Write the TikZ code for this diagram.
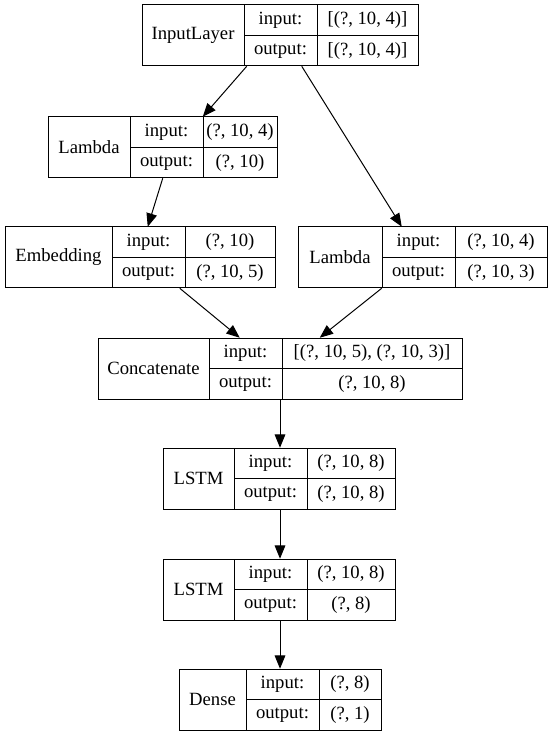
\documentclass[tikz,border=0pt]{standalone}
\usepackage{fontspec}
\setmainfont{Liberation Serif}
\usetikzlibrary{arrows.meta,positioning,calc,fit}

% one keras layer record: id, left, split1, split2, right, top, name, input, output
\newcommand{\kerasbox}[9]{%
  \node[cell, fit={(#2,#6) (#3,#6+61)}] (#1-n) {};
  \node[cell, fit={(#3,#6) (#4,#6+30.5)}] (#1-li) {};
  \node[cell, fit={(#3,#6+30.5) (#4,#6+61)}] (#1-lo) {};
  \node[cell, fit={(#4,#6) (#5,#6+30.5)}] (#1-vi) {};
  \node[cell, fit={(#4,#6+30.5) (#5,#6+61)}] (#1-vo) {};
  \node[txt] (#1-tn) at (#1-n.center) {#7};
  \node[txt] (#1-tli) at (#1-li.center) {input:};
  \node[txt] (#1-tlo) at (#1-lo.center) {output:};
  \node[txt] (#1-tvi) at (#1-vi.center) {#8};
  \node[txt] (#1-tvo) at (#1-vo.center) {#9};
  \node[whole, fit={(#2,#6) (#5,#6+61)}] (#1) {};
}

\begin{document}
\begin{tikzpicture}[
    x=0.75pt, y=-0.75pt,
    cell/.style={draw, line width=0.75pt, inner sep=0pt},
    txt/.style={inner sep=0pt, font=\fontsize{14}{16}\selectfont},
    whole/.style={inner sep=0pt},
    arr/.style={-{Triangle[length=10pt,width=8pt]}, line width=0.75pt}
]
\useasboundingbox (0,0) rectangle (549,737);

\kerasbox{inp}{142}{244}{317}{418}{5}{InputLayer}{[(?, 10, 4)]}{[(?, 10, 4)]}
\kerasbox{lama}{48}{130}{203}{277}{117}{Lambda}{(?, 10, 4)}{(?, 10)}
\kerasbox{emb}{5}{112}{185}{275}{227}{Embedding}{(?, 10)}{(?, 10, 5)}
\kerasbox{lamb}{298}{382}{455}{547}{227}{Lambda}{(?, 10, 4)}{(?, 10, 3)}
\kerasbox{cat}{98}{209}{282}{462}{338}{Concatenate}{[(?, 10, 5), (?, 10, 3)]}{(?, 10, 8)}
\kerasbox{lstma}{163}{234}{307}{395}{448}{LSTM}{(?, 10, 8)}{(?, 10, 8)}
\kerasbox{lstmb}{163}{234}{307}{395}{559}{LSTM}{(?, 10, 8)}{(?, 8)}
\kerasbox{dense}{179}{246}{319}{381}{669}{Dense}{(?, 8)}{(?, 1)}

\draw[arr] ($(inp.south west)+(105,0)$) -- ($(lama.north west)+(155,0)$);
\draw[arr] ($(inp.south west)+(160,0)$) -- ($(lamb.north west)+(104,0)$);
\draw[arr] ($(lama.south west)+(115,0)$) -- ($(emb.north west)+(143,0)$);
\draw[arr] ($(emb.south west)+(175,0)$) -- ($(cat.north west)+(142,0)$);
\draw[arr] ($(lamb.south west)+(84,0)$) -- ($(cat.north west)+(222,0)$);
\draw[arr] (cat.south) -- (cat.south |- lstma.north);
\draw[arr] (cat.south |- lstma.south) -- (cat.south |- lstmb.north);
\draw[arr] (cat.south |- lstmb.south) -- (cat.south |- dense.north);
\end{tikzpicture}
\end{document}
